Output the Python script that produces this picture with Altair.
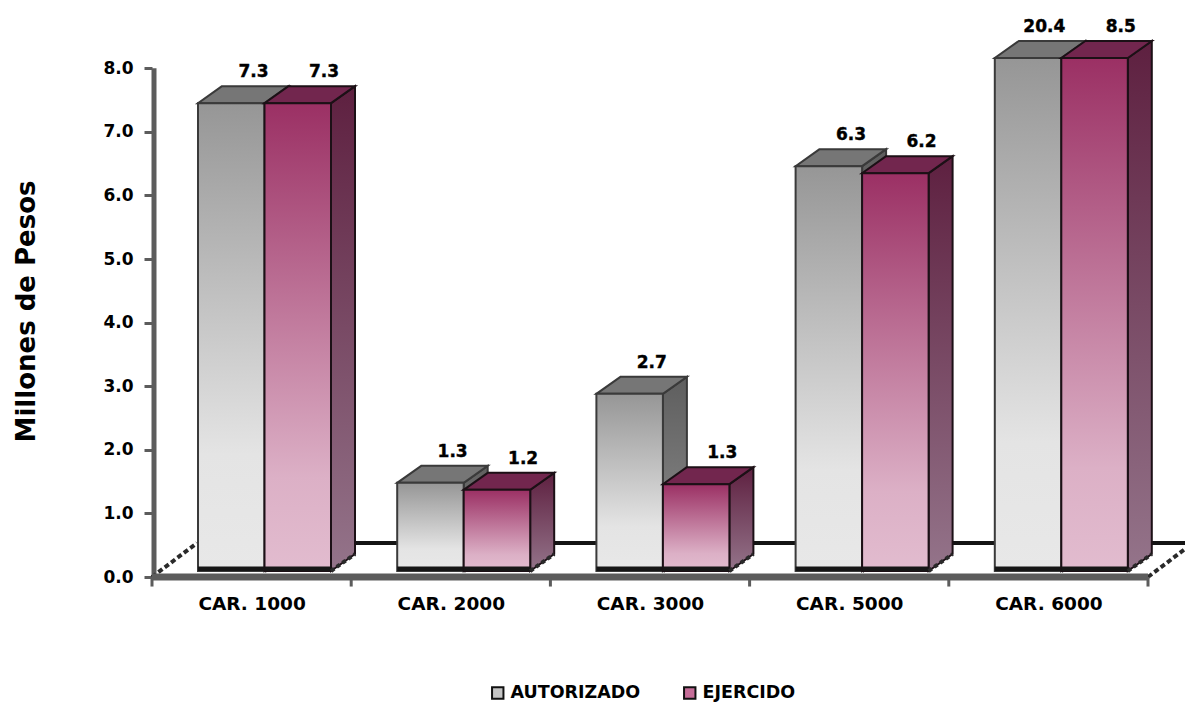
import altair as alt
import pandas as pd

categories = ["CAR. 1000", "CAR. 2000", "CAR. 3000", "CAR. 5000", "CAR. 6000"]
autorizado = [7.45, 1.48, 2.88, 6.46, 8.16]
ejercido = [7.45, 1.37, 1.46, 6.35, 8.16]
labels_aut = ["7.3", "1.3", "2.7", "6.3", "20.4"]
labels_eje = ["7.3", "1.2", "1.3", "6.2", "8.5"]
ticks_y = [0, 1, 2, 3, 4, 5, 6, 7, 8]

BASE = 0.094
DX = 24 / 199.2
DY = 17 / 63.6
BAR = 66.5 / 199.2
INSET = 46 / 199.2
FLOOR_DX = 45 / 199.2
FLOOR_DY = 34 / 63.6

PLOT_W = 1033
PLOT_H = 569

XS = alt.Scale(domain=[0, PLOT_W / 199.2], nice=False, zero=False)
YS = alt.Scale(domain=[0, PLOT_H / 63.6], nice=False, zero=False)

X_AXIS = alt.Axis(
    title=None, values=[0.5, 1.5, 2.5, 3.5, 4.5], domain=False, ticks=False, grid=False,
    labelExpr=f"{categories}[floor(datum.value)]",
    labelFont="DejaVu Sans", labelFontWeight="bold", labelFontSize=18.5, labelColor="#000000",
    labelPadding=17, labelAngle=0, labelFlush=False, labelOverlap=False,
)
Y_AXIS = alt.Axis(
    title="Millones de Pesos", values=ticks_y, format=".1f", domain=False, grid=False,
    tickColor="#5c5c5c", tickWidth=3, tickSize=8,
    labelFont="DejaVu Sans", labelFontWeight="bold", labelFontSize=17, labelColor="#000000",
    labelPadding=11,
    titleFont="DejaVu Sans", titleFontWeight="bold", titleFontSize=26, titleColor="#000000",
    titleAngle=270, titleX=-126, titleY=303, titleAlign="center", titleBaseline="middle",
)


def X(f="x"):
    return alt.X(f"{f}:Q", scale=XS, axis=X_AXIS)


def Y(f="y"):
    return alt.Y(f"{f}:Q", scale=YS, axis=Y_AXIS)


rows = []
for i, (c, a, e, la, le) in enumerate(zip(categories, autorizado, ejercido, labels_aut, labels_eje)):
    for s, v, lab, k in (("AUTORIZADO", a, la, 0), ("EJERCIDO", e, le, 1)):
        left = i + INSET + k * BAR
        rows.append(dict(cat=c, serie=s, left=left, right=left + BAR, top=v, base=BASE, label=lab))
bars = pd.DataFrame(rows)

side = pd.concat([
    bars.assign(x=bars.right, y=bars.base, y2=bars.top),
    bars.assign(x=bars.right + DX, y=bars.base + DY, y2=bars.top + DY),
])
topf = pd.concat([
    bars.assign(y=bars.top, x=bars.left, x2=bars.right),
    bars.assign(y=bars.top + DY, x=bars.left + DX, x2=bars.right + DX),
])
bars["lx"] = bars.right + 4 / 199.2 + (bars.serie == "EJERCIDO") * 4 / 199.2
bars["ly"] = bars.top + 31 / 63.6


def grad(stops):
    return alt.LinearGradient(
        gradient="linear", x1=0, x2=0, y1=0, y2=1,
        stops=[alt.GradientStop(offset=o, color=c) for o, c in stops],
    )


FRONT = {
    "AUTORIZADO": grad([(0, "#969696"), (0.75, "#e4e4e4"), (1, "#e8e8e8")]),
    "EJERCIDO": grad([(0, "#9b3064"), (0.8, "#dcb0c6"), (1, "#e2bccf")]),
}
SIDE = {
    "AUTORIZADO": grad([(0, "#5e5e5e"), (1, "#8f8f8f")]),
    "EJERCIDO": grad([(0, "#5e2040"), (1, "#94748a")]),
}
TOP = {"AUTORIZADO": "#767676", "EJERCIDO": "#72264e"}
EDGE = {"AUTORIZADO": "#3a3a3a", "EJERCIDO": "#1c1016"}

axis_df = pd.DataFrame({"x": [2 / 199.2], "y": [0.0], "y2": [8.0]})
y_axis_line = alt.Chart(axis_df).mark_rule(color="#5c5c5c", strokeWidth=5).encode(
    x=X(), y=Y(), y2="y2:Q",
)

floor_back = alt.Chart(pd.DataFrame({"x": [FLOOR_DX], "x2": [5 + FLOOR_DX], "y": [FLOOR_DY]})).mark_rule(
    color="#141414", strokeWidth=4
).encode(x=X(), x2="x2:Q", y=Y())
floor_front = alt.Chart(pd.DataFrame({"x": [0.0], "x2": [5.0], "y": [0.0]})).mark_rule(
    color="#5c5c5c", strokeWidth=7
).encode(x=X(), x2="x2:Q", y=Y())
diag = pd.DataFrame({
    "x": [0, FLOOR_DX, 5, 5 + FLOOR_DX],
    "y": [0, FLOOR_DY, 0, FLOOR_DY],
    "g": ["l", "l", "r", "r"],
})
floor_diag = alt.Chart(diag).mark_line(color="#2a2a2a", strokeWidth=4, strokeDash=[5, 3]).encode(
    x=X(), y=Y(), detail="g:N"
)
x_ticks = alt.Chart(pd.DataFrame({"x": [0, 1, 2, 3, 4, 5], "y": [0.0] * 6, "y2": [-0.15] * 6})).mark_rule(
    color="#5c5c5c", strokeWidth=3
).encode(x=X(), y=Y(), y2="y2:Q")

layers = [y_axis_line, floor_back, floor_diag, floor_front, x_ticks]

for s in ["AUTORIZADO", "EJERCIDO"]:
    sd = side[side.serie == s]
    tp = topf[topf.serie == s]
    fr = bars[bars.serie == s]
    layers.append(
        alt.Chart(sd).mark_area(orient="vertical", color=SIDE[s], stroke=EDGE[s], strokeWidth=2).encode(
            x=X(), y=Y(), y2="y2:Q", detail="cat:N"
        )
    )
    layers.append(
        alt.Chart(tp).mark_area(orient="horizontal", color=TOP[s], stroke=EDGE[s], strokeWidth=2).encode(
            y=Y(), x=X(), x2="x2:Q", detail="cat:N"
        )
    )
    layers.append(
        alt.Chart(fr).mark_rect(color=FRONT[s], stroke=EDGE[s], strokeWidth=2).encode(
            x=X("left"), x2="right:Q", y=Y("base"), y2="top:Q"
        )
    )
    layers.append(
        alt.Chart(fr.assign(b2=BASE + 0.07)).mark_rect(color="#161616").encode(
            x=X("left"), x2="right:Q", y=Y("base"), y2="b2:Q"
        )
    )
    side_bottom = pd.concat([
        fr.assign(x=fr.right, y=fr.base),
        fr.assign(x=fr.right + DX, y=fr.base + DY),
    ])
    layers.append(
        alt.Chart(side_bottom).mark_line(color="#2a2a2a", strokeWidth=4, strokeDash=[4, 3]).encode(
            x=X(), y=Y(), detail="cat:N"
        )
    )

labels = alt.Chart(bars).mark_text(
    font="DejaVu Sans", fontWeight="bold", fontSize=17, color="#000000", align="right", baseline="middle",
    stroke="#000000", strokeWidth=0.4,
).encode(x=X("lx"), y=Y("ly"), text="label:N")
layers.append(labels)

legend_df = pd.DataFrame({"serie": ["AUTORIZADO", "EJERCIDO"], "x": [2.0, 2.0], "y": [4.0, 4.0]})
legend_layer = alt.Chart(legend_df).mark_point(filled=True, shape="square", size=0).encode(
    x=X(), y=Y(),
    color=alt.Color(
        "serie:N",
        scale=alt.Scale(domain=["AUTORIZADO", "EJERCIDO"], range=["#c4c4c4", "#c56d98"]),
        legend=alt.Legend(
            title=None, orient="none", legendX=337, legendY=676, direction="horizontal", columns=2,
            symbolType="square", symbolSize=130, symbolOpacity=1, symbolStrokeColor="#111111", symbolStrokeWidth=2,
            labelFont="DejaVu Sans", labelFontWeight="bold", labelFontSize=17.5, labelColor="#000000",
            labelOffset=4, columnPadding=39, labelLimit=200,
        ),
    ),
)
layers.append(legend_layer)

chart = alt.layer(*layers).properties(
    width=PLOT_W, height=PLOT_H,
    padding=alt.Padding(left=144, top=0, right=0, bottom=127),
    autosize=alt.AutoSizeParams(type="none"), background="#ffffff",
).configure_view(stroke=None)

chart.save("out.html", embed_options={"renderer": "svg", "actions": False})
